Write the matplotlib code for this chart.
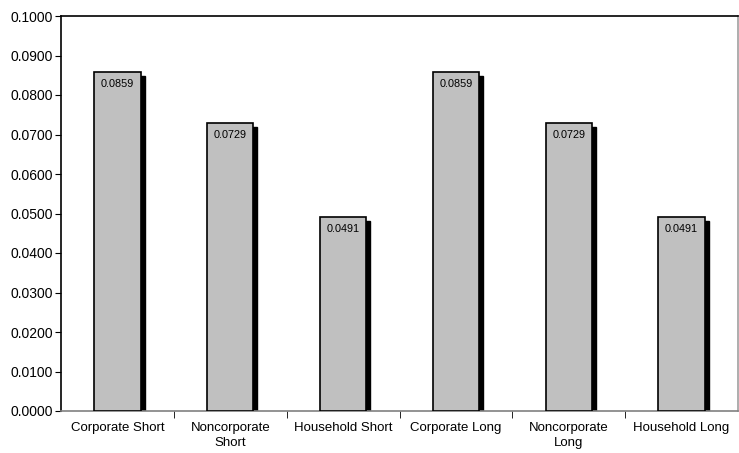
import matplotlib.pyplot as plt
import matplotlib.transforms as mtransforms
import numpy as np

plt.rcParams['font.family'] = ['Liberation Sans', 'DejaVu Sans']

categories = ['Corporate Short', 'Noncorporate\nShort', 'Household Short',
              'Corporate Long', 'Noncorporate\nLong', 'Household Long']
values = [0.0859, 0.0729, 0.0491, 0.0859, 0.0729, 0.0491]
yticks = [0.0, 0.01, 0.02, 0.03, 0.04, 0.05, 0.06, 0.07, 0.08, 0.09, 0.10]

fig = plt.figure(figsize=(7.39, 4.53), dpi=100)
ax = fig.add_axes([61 / 739, 1 - 411 / 453, 677 / 739, 395 / 453])

x = np.arange(len(categories))
width = 0.41

# black drop shadow, shifted right and down a few pixels
shadow_tf = mtransforms.offset_copy(ax.transData, fig=fig, x=4, y=-4, units='dots')
ax.bar(x, values, width=width, color='black', edgecolor='black', linewidth=1,
       transform=shadow_tf, zorder=2)
bars = ax.bar(x, values, width=width, color='#C0C0C0', edgecolor='black',
              linewidth=1.2, zorder=3)

for xi, v in zip(x, values):
    ax.annotate(f'{v:.4f}', (xi, v), xytext=(0, -5), textcoords='offset points',
                ha='center', va='top', fontsize=7.8, zorder=4)

ax.set_xlim(-0.5, len(categories) - 0.5)
ax.set_ylim(0, 0.1)
ax.set_yticks(yticks)
ax.set_yticklabels([f'{t:.4f}' for t in yticks], fontsize=10)

# category labels centered, tick marks between categories
ax.set_xticks(x)
ax.set_xticklabels(categories, fontsize=9.5, linespacing=1.35)
ax.tick_params(axis='x', length=0, pad=8)
ax.set_xticks(np.arange(0.5, len(categories) - 0.5, 1), minor=True)
ax.tick_params(axis='x', which='minor', length=5, direction='out', color='black')
ax.tick_params(axis='y', length=4, direction='out', pad=2)

ax.spines['left'].set_color('black')
ax.spines['top'].set_color('black')
ax.spines['bottom'].set_color('#808080')
ax.spines['right'].set_color('#A0A0A0')
for s in ax.spines.values():
    s.set_linewidth(1.2)

fig.savefig('out.png', dpi=100)
